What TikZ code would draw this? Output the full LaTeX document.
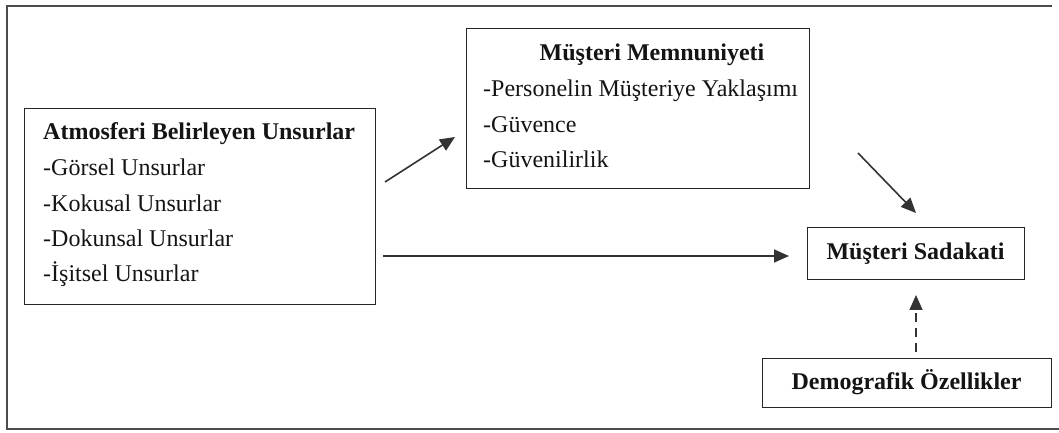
\documentclass[tikz,border=0pt]{standalone}
\usepackage{fontspec}
\setmainfont{Liberation Serif}
\usetikzlibrary{arrows.meta}
\begin{document}
\begin{tikzpicture}[x=1pt,y=1pt,
  box/.style={draw=black!85, line width=1.3pt, inner sep=0pt, anchor=north west},
  txt/.style={font=\fontsize{24}{28}\selectfont, text=black!92, inner sep=0pt, anchor=base west},
  ttl/.style={txt, font=\fontsize{24}{28}\selectfont\bfseries},
  link/.style={draw=black!80, line width=1.6pt, -{Triangle[length=15pt,width=13pt]}},
  dlink/.style={link, dash pattern=on 9pt off 6pt}]
\useasboundingbox (0,0) rectangle (1059,433);
% outer frame
\draw[draw=black!70, line width=2pt] (1052,427) -- (7,427) -- (7,4) -- (1059,4);

% boxes (top-left corner, size)
\node[box, minimum width=351pt, minimum height=196pt] (atm) at (24,325) {};
\node[box, minimum width=343pt, minimum height=160pt] (mem) at (466,405) {};
\node[box, minimum width=217pt, minimum height=52pt]  (sad) at (807,206) {};
\node[box, minimum width=289pt, minimum height=49pt]  (dem) at (762,75) {};

% box texts
\node[ttl] (atm0) at (43,293) {Atmosferi Belirleyen Unsurlar};
\node[txt] (atm1) at (43,257) {-Görsel Unsurlar};
\node[txt] (atm2) at (43,221) {-Kokusal Unsurlar};
\node[txt] (atm3) at (43,186) {-Dokunsal Unsurlar};
\node[txt] (atm4) at (43,151) {-İşitsel Unsurlar};

\node[ttl, anchor=base] (mem0) at (652,372) {Müşteri Memnuniyeti};
\node[txt] (mem1) at (483,336) {-Personelin Müşteriye Yaklaşımı};
\node[txt] (mem2) at (483,300) {-Güvence};
\node[txt] (mem3) at (483,265) {-Güvenilirlik};

\node[ttl, anchor=base] (sad0) at (915.5,173) {Müşteri Sadakati};
\node[ttl, anchor=base] (dem0) at (906.5,43) {Demografik Özellikler};

% arrow end points
\coordinate (p1) at (385,251);
\coordinate (p2) at (455,296);
\coordinate (p3) at (383,177);
\coordinate (p4) at (789,177);
\coordinate (p5) at (858,280);
\coordinate (p6) at (916,220);
\coordinate (p7) at (916,81);
\coordinate (p8) at (916,138);

\draw[link] (p1) -- (p2);
\draw[link] (p3) -- (p4);
\draw[link] (p5) -- (p6);
\draw[dlink] (p7) -- (p8);
\end{tikzpicture}
\end{document}
